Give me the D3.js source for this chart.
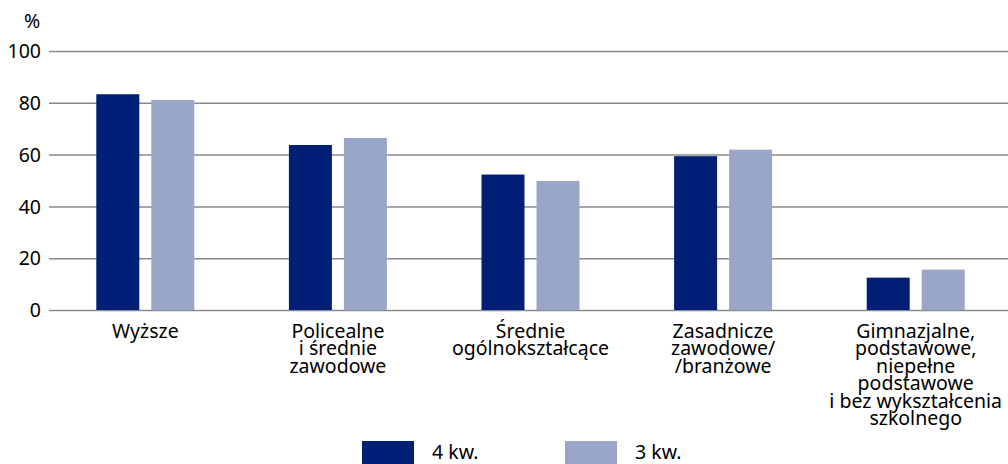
<!DOCTYPE html>
<html>
<head>
<meta charset="utf-8">
<script src="https://cdn.jsdelivr.net/npm/d3@7"></script>
<style>
  html, body { margin: 0; padding: 0; background: #fff; }
  svg { display: block; font-family: "Noto Sans", sans-serif; }
</style>
</head>
<body>
<svg id="chart" width="1008" height="464"></svg>
<script>
const categories = [
  ["Wyższe"],
  ["Policealne", "i średnie", "zawodowe"],
  ["Średnie", "ogólnokształcące"],
  ["Zasadnicze", "zawodowe/", "/branżowe"],
  ["Gimnazjalne,", "podstawowe,", "niepełne", "podstawowe", "i bez wykształcenia", "szkolnego"]
];
const seriesNames = ["4 kw.", "3 kw."];
const q4 = [83.3, 63.7, 52.3, 59.4, 12.5];
const q3 = [81.1, 66.4, 49.8, 61.9, 15.6];
const yTicks = [0, 20, 40, 60, 80, 100];
const colors = ["#001f77", "#99a6c9"];

const svg = d3.select("#chart");
const fontSize = 19.5;

const x = d3.scaleBand().domain(d3.range(categories.length)).range([49, 1012]).padding(0);
const y = d3.scaleLinear().domain([0, 100]).range([310, 51]);
const barW = 43, gap = 12;

// gridlines
const yAxis = d3.axisLeft(y).tickValues(yTicks).tickSize(-(1008 - 49)).tickPadding(8);
const g = svg.append("g").attr("transform", "translate(49,0)").call(yAxis);
g.select(".domain").remove();
g.selectAll(".tick line").attr("stroke", "#8a8a8a").attr("stroke-width", 1.5);
g.selectAll(".tick text").attr("font-size", fontSize).attr("fill", "#000")
  .attr("font-family", "Noto Sans, sans-serif").attr("dy", "0.34em");

svg.append("text").attr("x", 32).attr("y", 28).attr("text-anchor", "middle")
  .attr("font-size", fontSize).text("%");

const series = [q4, q3];
series.forEach((vals, si) => {
  svg.append("g").selectAll("rect").data(vals).join("rect")
    .attr("x", (d, i) => x(i) + x.bandwidth() / 2 - barW - gap / 2 + si * (barW + gap))
    .attr("width", barW)
    .attr("y", d => y(d))
    .attr("height", d => y(0) - y(d))
    .attr("fill", colors[si]);
});

// category labels
const lab = svg.append("g").selectAll("text").data(categories).join("text")
  .attr("text-anchor", "middle").attr("font-size", fontSize).attr("fill", "#000")
  .attr("x", (d, i) => x(i) + x.bandwidth() / 2)
  .attr("y", 337.5);
lab.selectAll("tspan").data(d => d).join("tspan")
  .attr("x", function() { return this.parentNode.getAttribute("x"); })
  .attr("dy", (d, i) => i === 0 ? 0 : 17.5)
  .text(d => d);

// legend
const legX = [362, 565];
seriesNames.forEach((name, i) => {
  svg.append("rect").attr("x", legX[i]).attr("y", 441).attr("width", 52).attr("height", 24).attr("fill", colors[i]);
  svg.append("text").attr("x", legX[i] + 70).attr("y", 458.5).attr("font-size", fontSize).text(name);
});
</script>
</body>
</html>
